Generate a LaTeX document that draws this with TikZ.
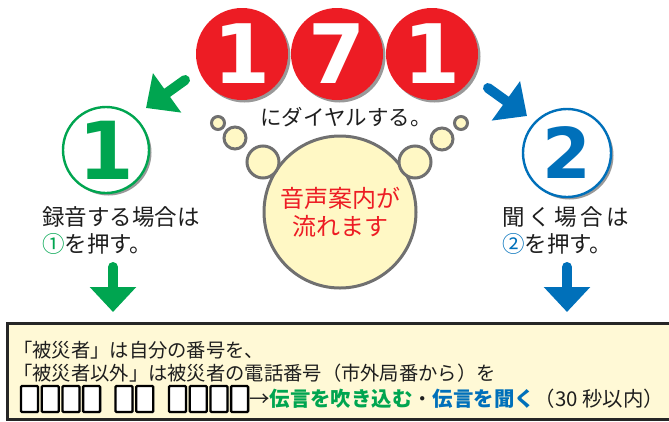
\documentclass[tikz,border=0pt]{standalone}
\usepackage{fontspec}
\usetikzlibrary{arrows.meta,shadows}
\newfontfamily\jp{Noto Sans CJK JP}
\newfontfamily\dig{DejaVu Sans}
\definecolor{cred}{RGB}{237,28,36}
\definecolor{cgreen}{RGB}{0,165,80}
\definecolor{cblue}{RGB}{0,112,186}
\definecolor{cgray}{RGB}{112,112,112}
\definecolor{bubfill}{RGB}{255,248,197}
\definecolor{boxfill}{RGB}{255,249,214}
\definecolor{ctext}{RGB}{30,30,30}
\tikzset{
  shd/.style={drop shadow={shadow xshift=2.5pt,shadow yshift=-2.5pt,fill=black!40,opacity=1}},
  redc/.style={circle,fill=cred,minimum size=92pt,inner sep=0pt,text=white,font=\dig\bfseries\fontsize{82}{82}\selectfont,shd},
  numc/.style={circle,fill=white,line width=2.4pt,minimum size=86pt,inner sep=0pt,shd},
  bub/.style={circle,draw=cgray,fill=bubfill,line width=3pt,inner sep=0pt},
  lbl/.style={inner sep=0pt,anchor=west,text=ctext},
  dgt/.style={draw=black,fill=white,line width=2.3pt,minimum width=17pt,minimum height=26pt,inner sep=0pt,rounded corners=1pt,drop shadow={shadow xshift=1pt,shadow yshift=-1pt,fill=black!35,opacity=1}},
  diag/.style={line width=10pt,line cap=round,-{Triangle[length=26pt,width=47pt]}},
  down/.style={line width=10pt,line cap=round,-{Triangle[length=25pt,width=45pt]}},
}
\begin{document}
\begin{tikzpicture}[x=1pt,y=-1pt]
\useasboundingbox (0,0) rectangle (669,421);
\clip (0,0) rectangle (669,421);
% bottom box
\draw[fill=boxfill,draw=black!85,line width=3pt] (7,323) rectangle (700,419);
\node[lbl,font=\jp\fontsize{19.3}{19.3}\selectfont] (l1) at (13,350) {「被災者」は自分の番号を、};
\node[lbl,font=\jp\fontsize{19.3}{19.3}\selectfont] (l2) at (13,373) {「被災者以外」は被災者の電話番号（市外局番から）を};
\foreach \x [count=\i] in {29.5,50.2,70.9,91.6,124,144.7,177.5,198.2,218.9,239.6}
  \node[dgt] (b\i) at (\x,399) {};
\node[lbl,font=\jp\fontsize{20.4}{20.4}\selectfont] (l3) at (249,399)
  {→{\bfseries\color{cgreen}伝言を吹き込む}・{\bfseries\color{cblue}伝言を聞く}（30 秒以内）};
% red digits
\node[redc] (d1) at (242,54) {1};
\node[redc] (d2) at (337,54) {7};
\node[redc] (d3) at (432,54) {1};
\node[inner sep=0pt,text=ctext,font=\jp\fontsize{21.5}{21.5}\selectfont] (dial) at (346,117) {にダイヤルする。};
% big bubble
\node[bub,minimum size=152pt,text=cred,align=center,font=\jp\fontsize{24}{28}\selectfont] (info) at (340,212) {音声案内が\\流れます};
\node[bub,minimum size=32pt] (bl3) at (263,162) {};
\node[bub,minimum size=22pt] (bl2) at (235,138) {};
\node[bub,minimum size=13pt] (bl1) at (218,123) {};
\node[bub,minimum size=32pt] (br3) at (415,162) {};
\node[bub,minimum size=22pt] (br2) at (442,139) {};
\node[bub,minimum size=13pt] (br1) at (461,123) {};
% numbered circles
\node[numc,draw=cgreen,text=cgreen,font=\dig\bfseries\fontsize{80}{80}\selectfont] (n1) at (106,150) {1};
\node[numc,draw=cblue,text=cblue,minimum size=88pt,font=\dig\bfseries\fontsize{70}{70}\selectfont] (n2) at (567,153) {2};
% diagonal arrows
\coordinate (gs) at (185,80);
\coordinate (ge) at (146,108);
\draw[diag,cgreen] (gs) -- (ge);
\coordinate (bs) at (488,88);
\coordinate (be) at (527,116);
\draw[diag,cblue] (bs) -- (be);
% side texts
\node[lbl,font=\jp\fontsize{22.5}{22.5}\selectfont] (t1) at (42,217) {録音する場合は};
\node[lbl,font=\jp\fontsize{22.5}{22.5}\selectfont] (t2) at (42,244) {{\color{cgreen}①}を押す。};
\node[lbl,font=\jp\fontsize{22.5}{22.5}\selectfont] (t3) at (502,217) {聞\hspace{3.5pt}く\hspace{3.5pt}場\hspace{3.5pt}合\hspace{3.5pt}は};
\node[lbl,font=\jp\fontsize{22.5}{22.5}\selectfont] (t4) at (502,244) {{\color{cblue}②}を押す。};
% down arrows
\coordinate (gd0) at (113,267);
\coordinate (gd1) at (113,312);
\draw[down,cgreen] (gd0) -- (gd1);
\coordinate (bd0) at (567,267);
\coordinate (bd1) at (567,312);
\draw[down,cblue] (bd0) -- (bd1);
\end{tikzpicture}
\end{document}
